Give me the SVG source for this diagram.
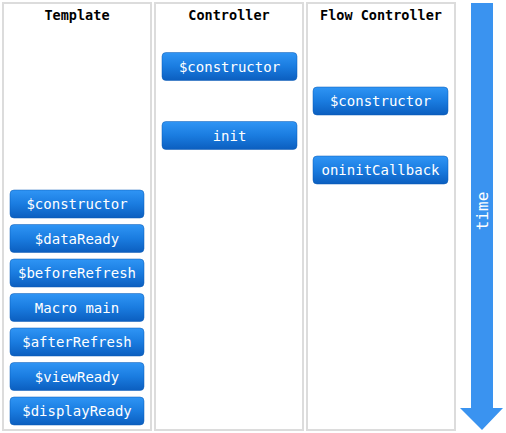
<svg xmlns="http://www.w3.org/2000/svg" width="506" height="433" viewBox="0 0 506 433">
<defs>
<linearGradient id="btn" x1="0" y1="0" x2="0" y2="1">
<stop offset="0" stop-color="#2f95f5"/>
<stop offset="0.5" stop-color="#1a7ce0"/>
<stop offset="1" stop-color="#0b5ebf"/>
</linearGradient>
<style>
.col{fill:#fff;stroke:#dcdcdc;stroke-width:2}
.hdr{font-family:"DejaVu Sans Mono",monospace;font-weight:bold;font-size:13.5px;fill:#000;text-anchor:middle}
.btn rect{fill:url(#btn);stroke:#0b5ab5;stroke-width:0.5}
.btn text{font-family:"DejaVu Sans Mono",monospace;font-size:14px;fill:#fff;text-anchor:middle}
.arrow{fill:#3a93f0}
.time{font-family:"DejaVu Sans Mono",monospace;font-size:16px;fill:#fff;text-anchor:middle}
</style>
</defs>
<rect width="506" height="433" fill="#fff"/>
<g id="col-template"><rect class="col" x="3" y="3" width="148" height="427"/><text class="hdr" x="77" y="20">Template</text></g>
<g id="col-controller"><rect class="col" x="155" y="3" width="148" height="427"/><text class="hdr" x="229" y="20">Controller</text></g>
<g id="col-flow"><rect class="col" x="307" y="3" width="148" height="427"/><text class="hdr" x="381" y="20">Flow Controller</text></g>
<g id="time-arrow">
<path class="arrow" d="M471,3 H493 V408 H503 L482,430 L460,408 H471 Z"/>
<text class="time" transform="translate(482,211) rotate(-90)" y="5.5">time</text>
</g>
<g id="t-constructor" class="btn"><rect x="10" y="190" width="134" height="28" rx="4"/><text x="77" y="209">$constructor</text></g>
<g id="t-dataReady" class="btn"><rect x="10" y="224.5" width="134" height="28" rx="4"/><text x="77" y="243.5">$dataReady</text></g>
<g id="t-beforeRefresh" class="btn"><rect x="10" y="259" width="134" height="28" rx="4"/><text x="77" y="278">$beforeRefresh</text></g>
<g id="t-macro" class="btn"><rect x="10" y="293.5" width="134" height="28" rx="4"/><text x="77" y="312.5">Macro main</text></g>
<g id="t-afterRefresh" class="btn"><rect x="10" y="328" width="134" height="28" rx="4"/><text x="77" y="347">$afterRefresh</text></g>
<g id="t-viewReady" class="btn"><rect x="10" y="362.5" width="134" height="28" rx="4"/><text x="77" y="381.5">$viewReady</text></g>
<g id="t-displayReady" class="btn"><rect x="10" y="397" width="134" height="28" rx="4"/><text x="77" y="416">$displayReady</text></g>
<g id="c-constructor" class="btn"><rect x="162" y="52.5" width="135" height="28" rx="4"/><text x="229.5" y="71.5">$constructor</text></g>
<g id="c-init" class="btn"><rect x="162" y="121.5" width="135" height="28" rx="4"/><text x="229.5" y="140.5">init</text></g>
<g id="f-constructor" class="btn"><rect x="313" y="87" width="135" height="28" rx="4"/><text x="380.5" y="106">$constructor</text></g>
<g id="f-oninit" class="btn"><rect x="313" y="156" width="135" height="28" rx="4"/><text x="380.5" y="175">oninitCallback</text></g>
<g id="connectors"/>
</svg>
